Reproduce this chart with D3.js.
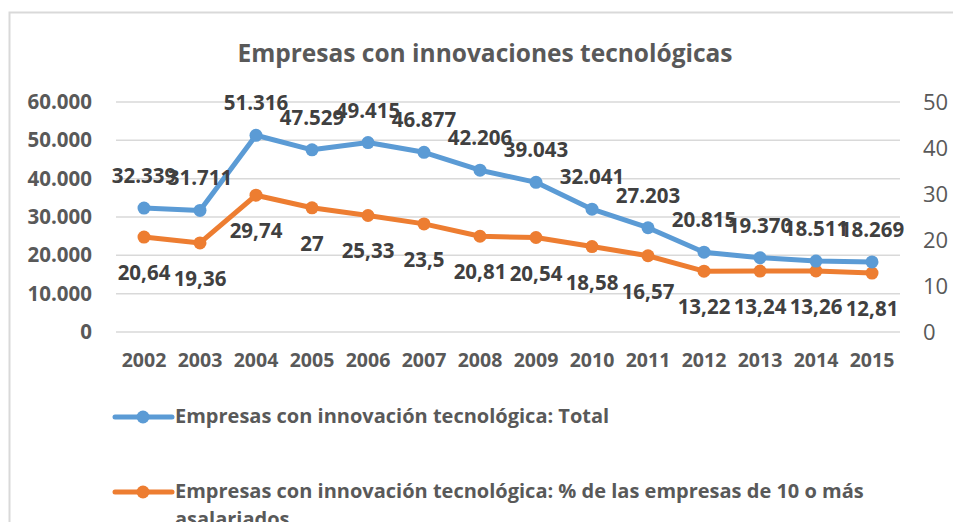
<!DOCTYPE html>
<html>
<head>
<meta charset="utf-8">
<script src="https://cdn.jsdelivr.net/npm/d3@7"></script>
<style>
  body { margin: 0; background: #fff; }
  text { font-family: "Open Sans", sans-serif; }
</style>
</head>
<body>
<div id="chart"></div>
<script>
// data
var years = ["2002", "2003", "2004", "2005", "2006", "2007", "2008", "2009", "2010", "2011", "2012", "2013", "2014", "2015"];
var totalValues = [32339, 31711, 51316, 47529, 49415, 46877, 42206, 39043, 32041, 27203, 20815, 19370, 18511, 18269];
var pctValues = [20.64, 19.36, 29.74, 27, 25.33, 23.5, 20.81, 20.54, 18.58, 16.57, 13.22, 13.24, 13.26, 12.81];
var leftTicks = [0, 10000, 20000, 30000, 40000, 50000, 60000];
var rightTicks = [0, 10, 20, 30, 40, 50];
var title = "Empresas con innovaciones tecnológicas";
var legendLabels = ["Empresas con innovación tecnológica: Total",
  "Empresas con innovación tecnológica: % de las empresas de 10 o más asalariados"];

var svgWidth = 953;
var svgHeight = 522;
var margin = { top: 102, right: 53, bottom: 190, left: 116 };
var width = svgWidth - margin.left - margin.right;
var height = svgHeight - margin.top - margin.bottom;

var blue = "#5B9BD5";
var orange = "#ED7D31";
var gray = "#595959";

var svg = d3.select("#chart")
  .append("svg")
  .attr("width", svgWidth)
  .attr("height", svgHeight);

// chart border
svg.append("rect")
  .attr("x", 9.5)
  .attr("y", 12.5)
  .attr("width", 960)
  .attr("height", 540)
  .attr("fill", "none")
  .attr("stroke", "#d9d9d9")
  .attr("stroke-width", 2);

svg.append("text")
  .attr("x", 485)
  .attr("y", 62)
  .attr("text-anchor", "middle")
  .attr("font-size", "24.5px")
  .attr("font-weight", "bold")
  .attr("fill", gray)
  .text(title);

var chartGroup = svg.append("g")
  .attr("transform", `translate(${margin.left}, ${margin.top})`);

var x = d3.scaleBand().domain(years).range([0, width]);
var yLeft = d3.scaleLinear().domain([0, 60000]).range([height, 0]);
var yRight = d3.scaleLinear().domain([0, 50]).range([height, 0]);

var fmtLeft = d3.formatLocale({ decimal: ",", thousands: ".", grouping: [3], currency: ["", "€"] }).format(",");

// gridlines
chartGroup.append("g")
  .selectAll("line")
  .data(leftTicks)
  .enter()
  .append("line")
  .attr("x1", 0)
  .attr("x2", width)
  .attr("y1", d => yLeft(d))
  .attr("y2", d => yLeft(d))
  .attr("stroke", "#d9d9d9")
  .attr("stroke-width", 1.5);

// left axis
var leftAxis = d3.axisLeft(yLeft).tickValues(leftTicks).tickSize(0).tickPadding(24).tickFormat(fmtLeft);
var gl = chartGroup.append("g").call(leftAxis);
gl.select(".domain").remove();
gl.selectAll("text")
  .attr("font-family", "Open Sans, sans-serif")
  .attr("font-size", "20.5px")
  .attr("font-weight", "bold")
  .attr("fill", gray);

// right axis
var rightAxis = d3.axisRight(yRight).tickValues(rightTicks).tickSize(0).tickPadding(23);
var gr = chartGroup.append("g").attr("transform", `translate(${width}, 0)`).call(rightAxis);
gr.select(".domain").remove();
gr.selectAll("text")
  .attr("font-family", "Open Sans, sans-serif")
  .attr("font-size", "22px")
  .attr("fill", gray);

// bottom axis
var bottomAxis = d3.axisBottom(x).tickSize(0).tickPadding(21);
var gb = chartGroup.append("g").attr("transform", `translate(0, ${height})`).call(bottomAxis);
gb.select(".domain").remove();
gb.selectAll("text")
  .attr("font-family", "Open Sans, sans-serif")
  .attr("font-size", "19.5px")
  .attr("font-weight", "bold")
  .attr("fill", gray);

var cx = d => x(d) + x.bandwidth() / 2;

function drawSeries(values, yScale, color) {
  var line = d3.line()
    .x((d, i) => cx(years[i]))
    .y(d => yScale(d));
  chartGroup.append("path")
    .datum(values)
    .attr("d", line)
    .attr("fill", "none")
    .attr("stroke", color)
    .attr("stroke-width", 5)
    .attr("stroke-linejoin", "round");
  chartGroup.append("g")
    .selectAll("circle")
    .data(values)
    .enter()
    .append("circle")
    .attr("cx", (d, i) => cx(years[i]))
    .attr("cy", d => yScale(d))
    .attr("r", 6.5)
    .attr("fill", color);
}

drawSeries(pctValues, yRight, orange);
drawSeries(totalValues, yLeft, blue);

// data labels
chartGroup.append("g")
  .selectAll("text")
  .data(totalValues)
  .enter()
  .append("text")
  .attr("x", (d, i) => cx(years[i]))
  .attr("y", d => yLeft(d) - 25)
  .attr("text-anchor", "middle")
  .attr("font-size", "20.5px")
  .attr("font-weight", "bold")
  .attr("fill", "#404040")
  .text(d => fmtLeft(d));

chartGroup.append("g")
  .selectAll("text")
  .data(pctValues)
  .enter()
  .append("text")
  .attr("x", (d, i) => cx(years[i]))
  .attr("y", d => yRight(d) + 43)
  .attr("text-anchor", "middle")
  .attr("font-size", "20.5px")
  .attr("font-weight", "bold")
  .attr("fill", "#404040")
  .text(d => String(d).replace(".", ","));

// legend
var legendY = [417, 492];
var legendColors = [blue, orange];
var legend = svg.append("g");
legendLabels.forEach(function(label, i) {
  var g = legend.append("g").attr("transform", `translate(115, ${legendY[i]})`);
  g.append("line")
    .attr("x1", 0).attr("x2", 57)
    .attr("y1", 0).attr("y2", 0)
    .attr("stroke", legendColors[i])
    .attr("stroke-width", 5)
    .attr("stroke-linecap", "round");
  g.append("circle")
    .attr("cx", 28).attr("cy", 0).attr("r", 6.5)
    .attr("fill", legendColors[i]);
  var t = g.append("text")
    .attr("x", 60)
    .attr("y", 6)
    .attr("font-size", "20px")
    .attr("font-weight", "bold")
    .attr("fill", gray);
  if (i === 1) {
    t.append("tspan").attr("x", 60).text("Empresas con innovación tecnológica: % de las empresas de 10 o más");
    t.append("tspan").attr("x", 60).attr("dy", 28).text("asalariados");
  } else {
    t.text(label);
  }
});
</script>
</body>
</html>
